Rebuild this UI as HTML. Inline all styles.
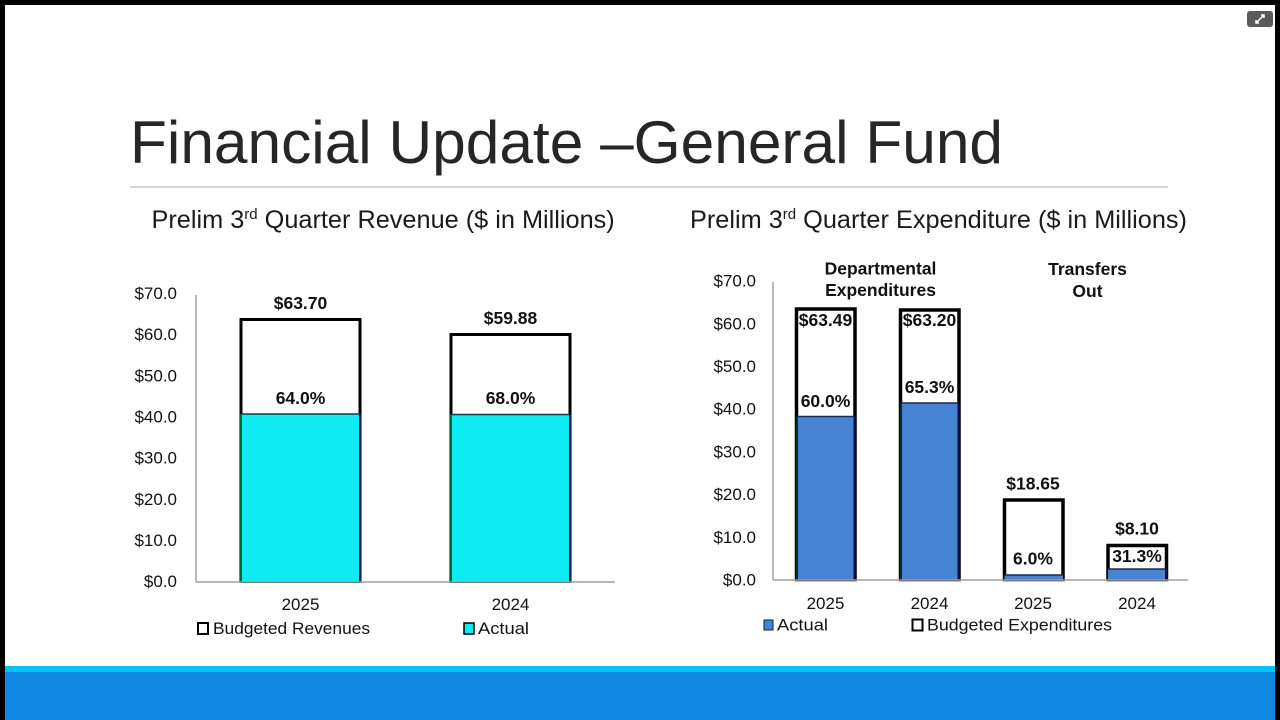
<!DOCTYPE html>
<html>
<head>
<meta charset="utf-8">
<style>
  html,body{margin:0;padding:0;width:1280px;height:720px;overflow:hidden;background:#000;}
  svg{display:block;}
  text{font-family:"Liberation Sans",Arial,sans-serif;}
</style>
</head>
<body>
<svg width="1280" height="720" viewBox="0 0 1280 720" xmlns="http://www.w3.org/2000/svg">
  <!-- background / frame -->
  <rect x="0" y="0" width="1280" height="720" fill="#000"/>
  <rect x="5" y="5" width="1270" height="661" fill="#ffffff"/>
  <rect x="5" y="666" width="1270" height="6" fill="#05c2f4"/>
  <rect x="5" y="672" width="1270" height="48" fill="#0e88e0"/>

  <!-- top-right icon -->
  <rect x="1247" y="11" width="26" height="16" rx="3" fill="#5a5a5a"/>
  <path d="M1256 23 L1264 15 M1261 15 L1264 15 L1264 18 M1256 20 L1256 23 L1259 23" stroke="#fff" stroke-width="1.5" fill="none"/>

  <!-- title -->
  <text x="130" y="163" font-size="60" fill="#262626" textLength="873" lengthAdjust="spacingAndGlyphs">Financial Update –General Fund</text>
  <rect x="130" y="186" width="1038" height="2" fill="#d4d4d4"/>

  <!-- subtitles -->
  <text x="151.5" y="228" font-size="25.3" fill="#1a1a1a">Prelim 3<tspan font-size="15" dy="-9">rd</tspan><tspan dy="9"> Quarter Revenue ($ in Millions)</tspan></text>
  <text x="690" y="228" font-size="25.3" fill="#1a1a1a">Prelim 3<tspan font-size="15" dy="-9">rd</tspan><tspan dy="9"> Quarter Expenditure ($ in Millions)</tspan></text>

  <!-- ============ LEFT CHART ============ -->
  <g font-size="17" fill="#111" text-anchor="end">
    <text x="177" y="299">$70.0</text>
    <text x="177" y="340.2">$60.0</text>
    <text x="177" y="381.3">$50.0</text>
    <text x="177" y="422.5">$40.0</text>
    <text x="177" y="463.6">$30.0</text>
    <text x="177" y="504.8">$20.0</text>
    <text x="177" y="545.9">$10.0</text>
    <text x="177" y="587">$0.0</text>
  </g>
  <!-- bars -->
  <rect x="241" y="319.5" width="119" height="262" fill="#fff" stroke="#000" stroke-width="3"/>
  <rect x="241" y="414" width="119" height="167.5" fill="#0eebf3"/>
  <line x1="241" y1="414" x2="360" y2="414" stroke="#1a3a3a" stroke-width="1.5"/>
  <line x1="241" y1="414" x2="241" y2="581.5" stroke="#063" stroke-width="2"/>
  <line x1="360" y1="414" x2="360" y2="581.5" stroke="#0a1a60" stroke-width="2"/>

  <rect x="451" y="334.5" width="119" height="247" fill="#fff" stroke="#000" stroke-width="3"/>
  <rect x="451" y="414.5" width="119" height="167" fill="#0eebf3"/>
  <line x1="451" y1="414.5" x2="570" y2="414.5" stroke="#1a3a3a" stroke-width="1.5"/>
  <line x1="451" y1="414.5" x2="451" y2="581.5" stroke="#063" stroke-width="2"/>
  <line x1="570" y1="414.5" x2="570" y2="581.5" stroke="#0a1a60" stroke-width="2"/>

  <!-- axes -->
  <line x1="196" y1="295" x2="196" y2="582" stroke="#a0a0a0" stroke-width="1.5"/>
  <line x1="196" y1="582" x2="615" y2="582" stroke="#a0a0a0" stroke-width="1.5"/>

  <g font-size="17.5" font-weight="bold" fill="#111" text-anchor="middle">
    <text x="300.5" y="309">$63.70</text>
    <text x="510.5" y="324">$59.88</text>
    <text x="300.5" y="404">64.0%</text>
    <text x="510.5" y="404">68.0%</text>
  </g>
  <g font-size="17" fill="#111" text-anchor="middle">
    <text x="300.5" y="610">2025</text>
    <text x="510.5" y="610">2024</text>
  </g>
  <!-- legend -->
  <rect x="198" y="623" width="10" height="11" fill="#fff" stroke="#000" stroke-width="2"/>
  <text x="213" y="634" font-size="17" fill="#111" textLength="157" lengthAdjust="spacingAndGlyphs">Budgeted Revenues</text>
  <rect x="464" y="623" width="10" height="11" fill="#0eebf3" stroke="#000" stroke-width="1.5"/>
  <text x="478" y="634" font-size="17" fill="#111" textLength="51" lengthAdjust="spacingAndGlyphs">Actual</text>

  <!-- ============ RIGHT CHART ============ -->
  <g font-size="17" fill="#111" text-anchor="end">
    <text x="756" y="286.6">$70.0</text>
    <text x="756" y="329.3">$60.0</text>
    <text x="756" y="372">$50.0</text>
    <text x="756" y="414.7">$40.0</text>
    <text x="756" y="457.4">$30.0</text>
    <text x="756" y="500.1">$20.0</text>
    <text x="756" y="542.8">$10.0</text>
    <text x="756" y="585.5">$0.0</text>
  </g>
  <g font-size="17.5" font-weight="bold" fill="#111" text-anchor="middle">
    <text x="880.5" y="274.5">Departmental</text>
    <text x="880.5" y="296">Expenditures</text>
    <text x="1087.5" y="275">Transfers</text>
    <text x="1087.5" y="297">Out</text>
  </g>

  <!-- bar 1 -->
  <rect x="796.5" y="309" width="58.5" height="270.5" fill="#fff" stroke="#000" stroke-width="3.5"/>
  <rect x="796.5" y="416.5" width="58.5" height="163" fill="#4783d3"/>
  <line x1="796.5" y1="416.5" x2="855" y2="416.5" stroke="#1a2a4a" stroke-width="1.5"/>
  <line x1="797" y1="416.5" x2="797" y2="579.5" stroke="#0b2a22" stroke-width="2"/>
  <line x1="854.5" y1="416.5" x2="854.5" y2="579.5" stroke="#08105a" stroke-width="2"/>
  <!-- bar 2 -->
  <rect x="900.5" y="310" width="58.5" height="269.5" fill="#fff" stroke="#000" stroke-width="3.5"/>
  <rect x="900.5" y="403" width="58.5" height="176.5" fill="#4783d3"/>
  <line x1="900.5" y1="403" x2="959" y2="403" stroke="#1a2a4a" stroke-width="1.5"/>
  <line x1="901" y1="403" x2="901" y2="579.5" stroke="#0b2a22" stroke-width="2"/>
  <line x1="958.5" y1="403" x2="958.5" y2="579.5" stroke="#08105a" stroke-width="2"/>
  <!-- bar 3 -->
  <rect x="1004.5" y="500" width="58.5" height="79.5" fill="#fff" stroke="#000" stroke-width="3.5"/>
  <rect x="1004.5" y="575" width="58.5" height="4.5" fill="#4783d3"/>
  <line x1="1004.5" y1="575" x2="1063" y2="575" stroke="#1a2a4a" stroke-width="1.5"/>
  <!-- bar 4 -->
  <rect x="1108" y="545.5" width="58.5" height="34" fill="#fff" stroke="#000" stroke-width="3.5"/>
  <rect x="1108" y="569" width="58.5" height="10.5" fill="#4783d3"/>
  <line x1="1108" y1="569" x2="1166.5" y2="569" stroke="#1a2a4a" stroke-width="1.5"/>
  <line x1="1166" y1="569" x2="1166" y2="579.5" stroke="#08105a" stroke-width="2"/>

  <!-- axes -->
  <line x1="773" y1="282" x2="773" y2="580" stroke="#a0a0a0" stroke-width="1.5"/>
  <line x1="773" y1="580" x2="1188" y2="580" stroke="#a0a0a0" stroke-width="1.5"/>

  <g font-size="17.5" font-weight="bold" fill="#111" text-anchor="middle">
    <text x="825.5" y="326">$63.49</text>
    <text x="929.5" y="326">$63.20</text>
    <text x="825.5" y="407">60.0%</text>
    <text x="929.5" y="393">65.3%</text>
    <text x="1033" y="489.5">$18.65</text>
    <text x="1033" y="564.5">6.0%</text>
    <text x="1137" y="534.5">$8.10</text>
    <text x="1137" y="562">31.3%</text>
  </g>
  <g font-size="17" fill="#111" text-anchor="middle">
    <text x="825.5" y="609">2025</text>
    <text x="929.5" y="609">2024</text>
    <text x="1033" y="609">2025</text>
    <text x="1137" y="609">2024</text>
  </g>
  <!-- legend -->
  <rect x="764" y="620" width="9" height="10" fill="#4783d3" stroke="#0a1a50" stroke-width="1"/>
  <text x="777" y="630.5" font-size="17" fill="#111" textLength="51" lengthAdjust="spacingAndGlyphs">Actual</text>
  <rect x="912.5" y="619.5" width="10" height="11" fill="#fff" stroke="#000" stroke-width="2"/>
  <text x="927" y="630.5" font-size="17" fill="#111" textLength="185" lengthAdjust="spacingAndGlyphs">Budgeted Expenditures</text>
</svg>
</body>
</html>
